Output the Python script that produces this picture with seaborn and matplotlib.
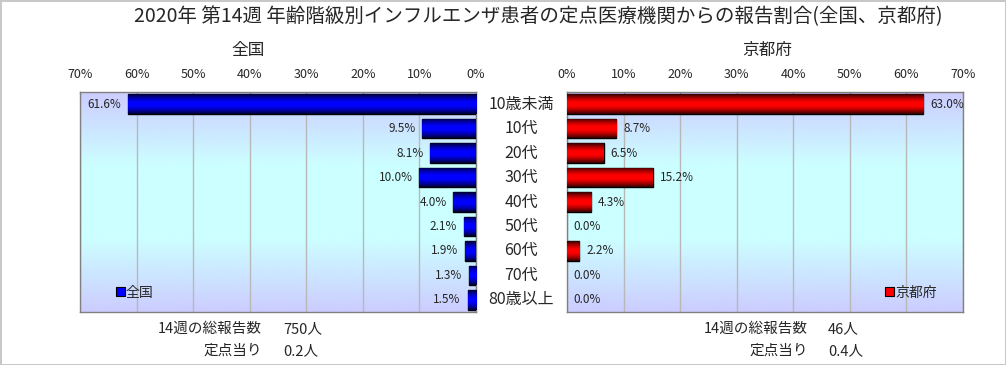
import numpy as np
import pandas as pd
import seaborn as sns
import matplotlib
matplotlib.use('Agg')
from matplotlib import pyplot as plt
from matplotlib import transforms
from matplotlib.colors import LinearSegmentedColormap
from matplotlib.patches import Patch

ages = ['10歳未満', '10代', '20代', '30代', '40代', '50代', '60代', '70代', '80歳以上']
zenkoku = [61.6, 9.5, 8.1, 10.0, 4.0, 2.1, 1.9, 1.3, 1.5]
kyoto = [63.0, 8.7, 6.5, 15.2, 4.3, 0.0, 2.2, 0.0, 0.0]
ticks = [0, 10, 20, 30, 40, 50, 60, 70]

title = '2020年 第14週 年齢階級別インフルエンザ患者の定点医療機関からの報告割合(全国、京都府)'
week_label = '14週の総報告数'
per_label = '定点当り'
zenkoku_total = '750人'
zenkoku_per = '0.2人'
kyoto_total = '46人'
kyoto_per = '0.4人'

sns.set_style('white')
plt.rcParams['font.family'] = ['Noto Sans CJK JP', 'DejaVu Sans']

df = pd.DataFrame({'age': ages, '全国': zenkoku, '京都府': kyoto})

fig = plt.figure(figsize=(10.06, 3.65), dpi=100)
fig.patch.set_edgecolor('#c8c8c8')
fig.patch.set_linewidth(2)

ax1 = fig.add_axes([80 / 1006, 53 / 365, 396 / 1006, 220 / 365])
ax2 = fig.add_axes([567 / 1006, 53 / 365, 396 / 1006, 220 / 365])

bg = LinearSegmentedColormap.from_list('bg', ['#ccccff', '#ccffff', '#ccffff', '#ccccff'])
blue = LinearSegmentedColormap.from_list('bl', ['#000033', '#0000b0', '#0000ff', '#0000ff', '#0000b0', '#000033'])
red = LinearSegmentedColormap.from_list('rd', ['#330000', '#b00000', '#ff0000', '#ff0000', '#b00000', '#330000'])


def draw_panel(ax, col, cmap, color, side):
    sns.barplot(data=df, y='age', x=col, orient='h', color=color, width=0.8,
                edgecolor='black', linewidth=1, ax=ax, zorder=3)
    ax.imshow(np.linspace(0, 1, 256).reshape(-1, 1), cmap=bg, aspect='auto',
              extent=[0, 1, 0, 1], transform=ax.transAxes, zorder=0)
    grad = np.linspace(0, 1, 64).reshape(-1, 1)
    for p in ax.patches:
        if p.get_width() <= 0:
            p.set_linewidth(0)
            continue
        x0, y0 = p.get_x(), p.get_y()
        im = ax.imshow(grad, cmap=cmap, aspect='auto', zorder=3.5,
                       extent=[x0, x0 + p.get_width(), y0 + p.get_height(), y0])
        im.set_clip_path(p)
    if side == 'left':
        ax.set_xlim(70, 0)
    else:
        ax.set_xlim(0, 70)
    ax.set_ylim(len(ages) - 0.5, -0.5)
    ax.set_xticks(ticks)
    ax.set_xticklabels([f'{t}%' for t in ticks], fontsize=9)
    ax.xaxis.tick_top()
    ax.tick_params(axis='x', length=3, pad=8, color='#808080', direction='in')
    ax.set_yticks([])
    ax.set_xlabel('')
    ax.set_ylabel('')
    ax.grid(axis='x', color='#b8b8b8', linewidth=1, zorder=1)
    ax.set_axisbelow(True)
    for s in ax.spines.values():
        s.set_color('#808080')
        s.set_linewidth(1)
    for i, v in enumerate(df[col]):
        if side == 'left':
            ax.text(v + 1.2, i, f'{v:.1f}%', ha='right', va='center', fontsize=8.5, zorder=5)
        else:
            ax.text(v + 1.2, i, f'{v:.1f}%', ha='left', va='center', fontsize=8.5, zorder=5)
    h = Patch(facecolor=color, edgecolor='black', linewidth=0.8)
    loc = 'lower left' if side == 'left' else 'lower right'
    ax.legend([h], [col], loc=loc, frameon=False, fontsize=10, handlelength=0.6,
              handleheight=0.6, handletextpad=0.1, borderaxespad=0.5,
              bbox_to_anchor=(0.06, 0.0) if side == 'left' else (0.965, 0.0))


draw_panel(ax1, '全国', blue, '#0000ff', 'left')
draw_panel(ax2, '京都府', red, '#ff0000', 'right')

# category labels between the panels
tr = transforms.blended_transform_factory(fig.transFigure, ax1.transData)
for i, a in enumerate(ages):
    fig.text(521 / 1006, i, a, transform=tr, ha='center', va='center', fontsize=11.5)

fig.text(538 / 1006, 1 - 17 / 365, title, ha='center', va='center', fontsize=14)
fig.text(248 / 1006, 1 - 50 / 365, '全国', ha='center', va='center', fontsize=12)
fig.text(767 / 1006, 1 - 50 / 365, '京都府', ha='center', va='center', fontsize=12)

for lx, vx, tot, per in [(262, 283, zenkoku_total, zenkoku_per), (808, 828, kyoto_total, kyoto_per)]:
    fig.text(lx / 1006, 1 - 329 / 365, week_label, ha='right', va='center', fontsize=10.5)
    fig.text(vx / 1006, 1 - 329 / 365, tot, ha='left', va='center', fontsize=10.5)
    fig.text(lx / 1006, 1 - 351 / 365, per_label, ha='right', va='center', fontsize=10.5)
    fig.text(vx / 1006, 1 - 351 / 365, per, ha='left', va='center', fontsize=10.5)

fig.savefig('out.png', dpi=100)
